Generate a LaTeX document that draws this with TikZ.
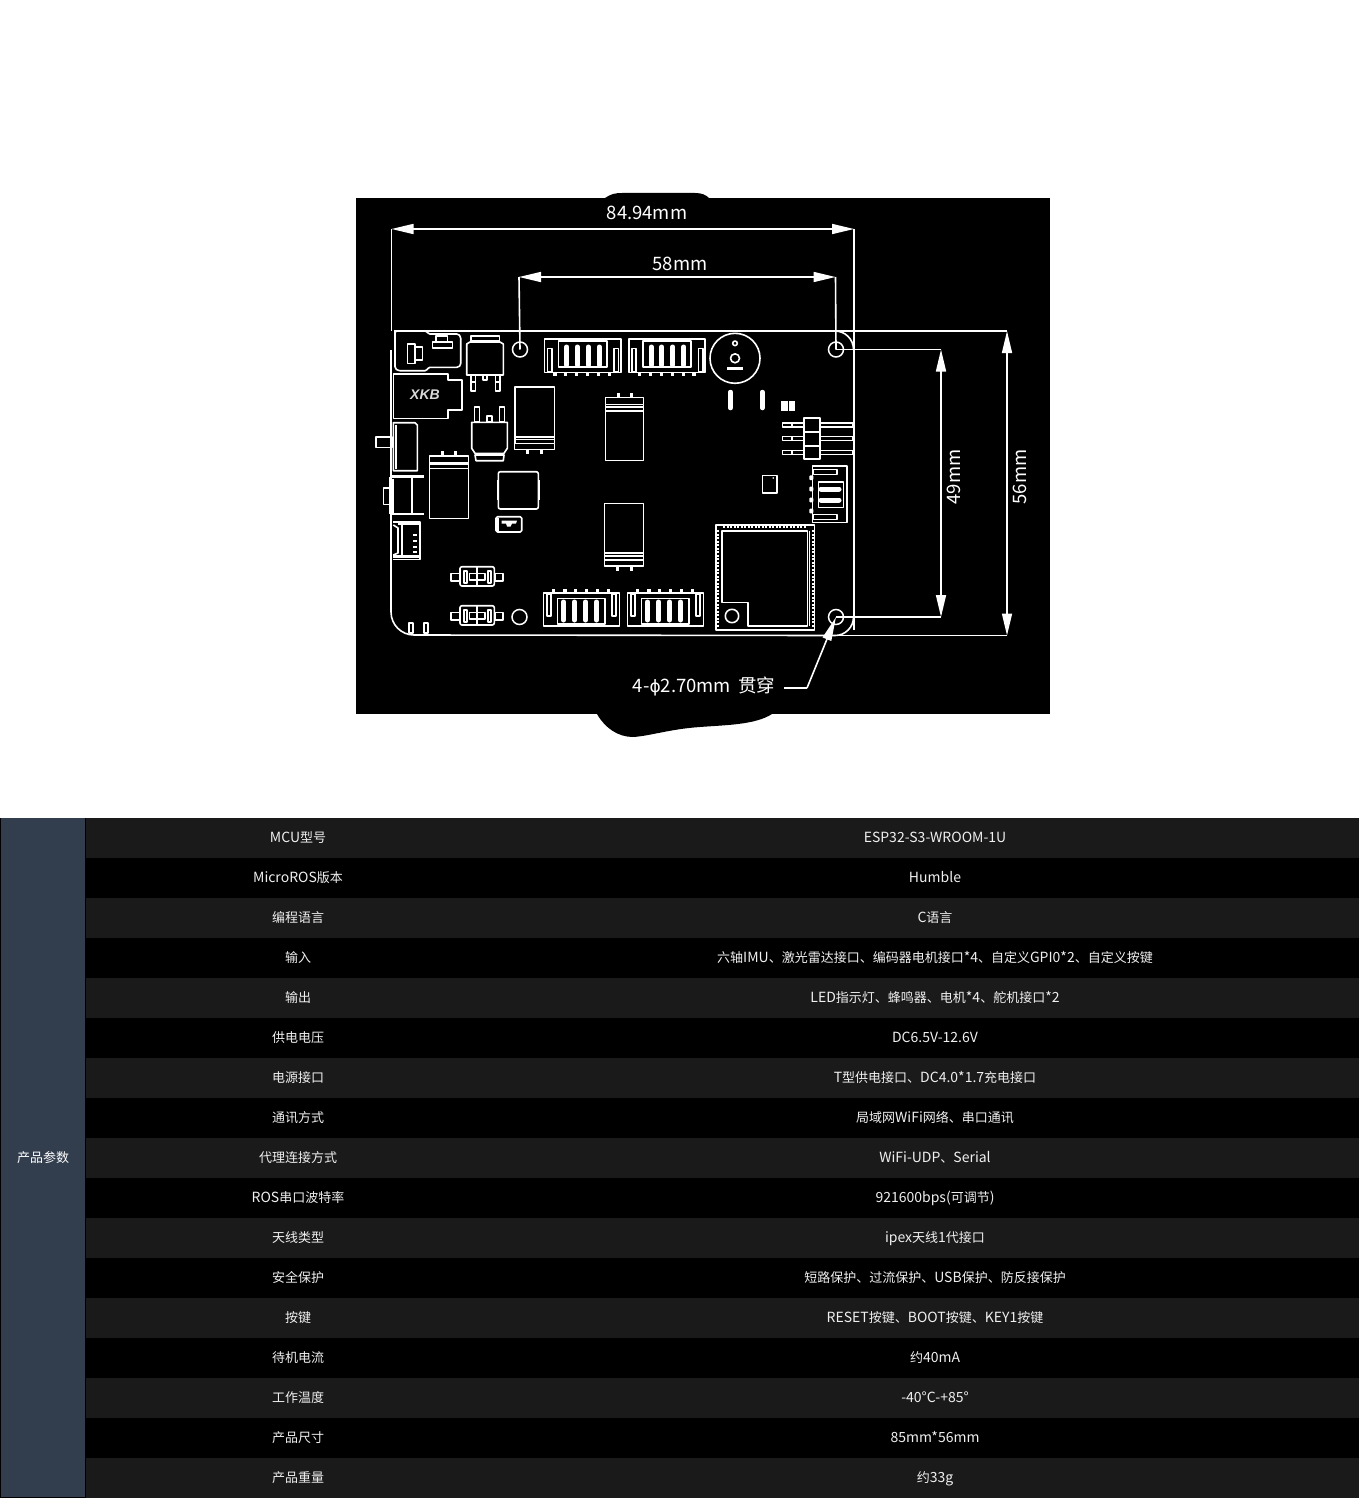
\documentclass[tikz,border=0pt]{standalone}
\usepackage{fontspec}
\setmainfont{Noto Sans CJK SC}
\newfontfamily\xkbfont{Liberation Sans}
\newfontfamily\phifont{DejaVu Sans}
\usetikzlibrary{arrows.meta}
\definecolor{rowdark}{HTML}{1A1A1A}
\definecolor{sidecell}{HTML}{323E4E}
\definecolor{celltext}{HTML}{F0F0F0}
\newcommand{\lat}[1]{{\fontsize{14}{15}\selectfont #1}}
\tikzset{
  part/.style={draw=white,line width=1.6pt,line join=round},
  dimline/.style={draw=white,line width=1.6pt},
  dimarrow/.style={dimline,{Triangle[length=22pt,width=10pt]}-{Triangle[length=22pt,width=10pt]}},
  dimtext/.style={text=white,inner sep=0pt,font=\fontsize{18.5}{20}\selectfont},
  hole/.style={circle,draw=white,line width=1.5pt,minimum size=15pt,inner sep=0pt},
  pill/.style={draw=white,line cap=round,line width=5pt},
  cell/.style={text=celltext,inner sep=0pt,text height=11pt,text depth=3pt,font=\fontsize{13}{15}\selectfont},
  castle/.style={draw=white,line width=3pt,dash pattern=on 2pt off 1.5pt}
}
% one 4-pin socket, top row of the board
\newcommand{\sockettop}[1]{%
  \begin{scope}[xshift=#1pt]
    \draw[part] (544.3,339) rectangle (620.7,372.3);
    \draw[part] (558.3,340.7) rectangle (606.7,366.7);
    \draw[part] (547.3,348.3) rectangle (551.7,371.7);
    \draw[part] (614,348.3) rectangle (618.3,371.7);
    \foreach \fx in {566.7,577.3,588.3,599.3}
      \draw[pill] (\fx,347) -- (\fx,365);
    \foreach \tx in {555,565.7,576.7,587.7,598.7,609.3}
      \fill[white] (\tx-1.7,372) rectangle (\tx+1.7,375.5);
  \end{scope}}
% same socket, bottom row
\newcommand{\socketbot}[1]{%
  \begin{scope}[xshift=#1pt]
    \draw[part] (543.3,592.7) rectangle (619.3,626);
    \draw[part] (557.3,598.3) rectangle (605,624);
    \draw[part] (546.7,594) rectangle (551,616);
    \draw[part] (611.7,594) rectangle (616,616);
    \foreach \fx in {563.5,574.5,585.5,596.5}
      \draw[pill] (\fx,602) -- (\fx,620);
    \foreach \tx in {553.3,565,575.7,586.7,597.7,608.3}
      \fill[white] (\tx-1.7,589.3) rectangle (\tx+1.7,593);
  \end{scope}}
% tact switch
\newcommand{\tactbtn}[1]{%
  \begin{scope}[yshift=-#1pt]
    \draw[part,rounded corners=2pt] (460,566.7) rectangle (494.3,586);
    \draw[part] (451,573.3) rectangle (459.3,580.7);
    \draw[part] (495,573.3) rectangle (502.7,580.7);
    \draw[part,line width=2pt] (463.5,570.5) rectangle (466.5,582.5);
    \draw[part,line width=2pt] (487.5,570.5) rectangle (490.5,582.5);
    \draw[part] (469.3,573.3) rectangle (485,580);
    \draw[part] (477,566.7) -- (477,586);
  \end{scope}}
\begin{document}
\begin{tikzpicture}[x=1pt,y=-1pt]
  \fill[white] (0,0) rectangle (1369,1498);
  \useasboundingbox (0,0) rectangle (1369,1498);

  % black panel and its two torn edges
  \fill[black] (356,198) rectangle (1050,714);
  \fill[black] (605,198) .. controls (611,194) and (615,193) .. (622,193) -- (695,193)
    .. controls (702,193) and (706,195) .. (709,198) -- cycle;
  \fill[black] (597,714) .. controls (605,728) and (618,737) .. (633,737)
    .. controls (650,736) and (670,729) .. (700,727)
    .. controls (725,725) and (755,725) .. (772,714) -- cycle;

  % board corners and dimension ends
  \coordinate (bTL) at (391.5,331);
  \coordinate (bTR) at (854,331);
  \coordinate (bBR) at (854,635.5);
  \coordinate (wL) at (391.5,229);
  \coordinate (wR) at (854,229);
  \coordinate (hT) at (1007,331);
  \coordinate (hB) at (1007,635.5);
  \node[hole] (hTL) at (520,349.5) {};
  \node[hole] (hTR) at (836,349.5) {};
  \node[hole] (hBR) at (836,617) {};
  \node[hole] (hBL) at (519.5,617) {};
  \coordinate (sL) at (519,277);
  \coordinate (sR) at (835.5,277);
  \coordinate (vT) at (941,349.5);
  \coordinate (vB) at (941,617);

  % board outline
  \draw[part] (394.5,331) -- (394.5,350);
  \draw[part] (391,350) -- (391,612) arc[start angle=180,end angle=90,radius=23] -- (835,635.5);
  \draw[part] (835,331) arc[start angle=-90,end angle=0,radius=18.5];
  \draw[part] (853.5,617) arc[start angle=0,end angle=90,radius=18.5];

  % dimensions
  \draw[dimline] (wL) -- (bTL);
  \draw[dimline] (wR) -- (854,630);
  \draw[dimarrow] (wL) -- (wR);
  \draw[dimline] (sL) -- (hTL.center);
  \draw[dimline] (sR) -- (hTR.center);
  \draw[dimarrow] (sL) -- (sR);
  \draw[dimline] (hTR.center) -- (vT);
  \draw[dimline] (hBR.center) -- (vB);
  \draw[dimarrow] (vT) -- (vB);
  \draw[dimline] (394,331) -- (hT);
  \draw[dimline] (835,635.5) -- (hB);
  \draw[dimarrow] (hT) -- (hB);
  \node[dimtext] (w1) at (647,213) {84.94mm};
  \node[dimtext] (w2) at (680,264) {58mm};
  \node[dimtext,rotate=90] (h1) at (954,477) {49mm};
  \node[dimtext,rotate=90] (h2) at (1020,477) {56mm};
  \node[dimtext] (holes) at (704,686) {4-{\phifont\fontsize{17}{20}\selectfont ϕ}2.70mm\hspace{7pt}贯穿};
  \coordinate (lead) at (807,688);
  \draw[dimline] (784,688) -- (lead);
  \draw[dimline,-{Triangle[length=24pt,width=9pt]}] (lead) -- (hBR.center);

  % card slot
  \draw[part,rounded corners=1.5pt] (395,331) -- (426.7,331) -- (428.3,334) -- (458.3,334) -- (460.7,336.7)
    -- (460.7,365) -- (458.3,367.3) -- (428.3,367.3) -- (426.7,370.7) -- (398.3,370.7) -- (395,368.3) -- cycle;
  \draw[part] (407.3,344) -- (415,344) -- (415,346.7) -- (422.3,346.7) -- (422.3,360) -- (415,360) -- (415,363.3) -- (407.3,363.3) -- cycle;
  \draw[part] (415,346.7) -- (415,360);
  \draw[part] (432.3,341.7) rectangle (452.3,347.7);
  \draw[part] (435.7,341.7) -- (435.7,336) -- (447.3,336) -- (447.3,341.7);

  % regulator
  \draw[part] (466.7,344) -- (470,342) -- (500,342) -- (503.3,344) -- (503.3,375) -- (466.7,375) -- cycle;
  \draw[part] (470.7,342) -- (470.7,336) -- (499.3,336) -- (499.3,342);
  \draw[part] (470.7,340.7) -- (499.3,340.7);
  \draw[part] (470.7,375) rectangle (475.3,390.7);
  \draw[part] (495.3,375) rectangle (500,390.7);
  \draw[part] (482.7,375) rectangle (486.7,380);
  \draw[part] (470.7,381.7) -- (475.3,381.7) (495.3,381.7) -- (500,381.7);

  % barrel jack block
  \draw[part] (393.3,374) -- (447.7,374) -- (447.7,380) -- (461.7,380) -- (461.7,410) -- (447.7,410) -- (447.7,418.3) -- (393.3,418.3) -- cycle;
  \node[text=white,opacity=.85,inner sep=0pt,font=\xkbfont\fontsize{14}{14}\selectfont\bfseries\itshape] (xkb) at (425,395) {XKB};

  % slide switch
  \draw[part] (393.3,422.7) -- (415,422.7) -- (417.3,425) -- (417.3,470.7) -- (393.3,470.7) -- cycle;
  \draw[part] (396,425) -- (396,468.5);
  \draw[part] (376,436.7) rectangle (391.7,447.3);

  % usb socket
  \draw[part,line width=2.6pt] (390,476.5) -- (424,476.5);
  \draw[part,line width=2.6pt] (390,514) -- (424,514);
  \draw[part] (390,476.5) -- (390,514);
  \draw[part] (393,479.3) -- (393,512.7);
  \draw[part] (411.7,476.5) -- (411.7,514);
  \draw[part] (390,487.7) -- (383.3,487.7) -- (383.3,504.3) -- (390,504.3);

  % lidar socket
  \draw[part] (393.3,521.7) -- (420,521.7) -- (420,559.3) -- (393.3,559.3);
  \draw[part,line width=2.2pt] (398,523.5) -- (420,523.5);
  \draw[part,line width=2.2pt] (393.3,556.5) -- (420,556.5);
  \draw[part,line width=2pt] (401.5,524) -- (401.5,556);
  \draw[part] (393.3,525) -- (398,528) -- (398,553) -- (393.3,555);
  \foreach \ty in {535,541,547,552}
    \fill[white] (413,\ty-1.2) rectangle (416.5,\ty+1.2);

  % transistor
  \draw[part] (474.3,406.7) rectangle (479.3,421.7);
  \draw[part] (499.3,406.7) rectangle (504.3,421.7);
  \draw[part] (486.7,416) rectangle (491.7,421.7);
  \draw[part] (471.7,422.3) -- (507.3,422.3) -- (507.3,448.3) -- (504,453.3) -- (475,453.3) -- (471.7,448.3) -- cycle;
  \draw[part] (475,455) -- (504,455) -- (503.3,460.7) -- (476,460.7) -- cycle;

  % capacitors
  \draw[part] (515,386.7) rectangle (554.3,436.7);
  \draw[part] (515,436.7) -- (515,443.3) (554.3,436.7) -- (554.3,443.3);
  \draw[part] (515,439.3) -- (554.3,439.3);
  \draw[part] (514.3,443.3) rectangle (554.3,449.3);
  \foreach \px in {527.7,541}
    \fill[white] (\px-1.5,449.3) rectangle (\px+1.5,454.3);

  \foreach \px in {442.7,455.7}
    \fill[white] (\px-1.5,450.7) rectangle (\px+1.5,455.7);
  \draw[part] (429.3,455.7) rectangle (468.3,462.7);
  \draw[part] (429.3,464.5) -- (468.3,464.5);
  \draw[part] (429.3,462.7) -- (429.3,468.3) (468.3,462.7) -- (468.3,468.3);
  \draw[part] (429.3,468.3) rectangle (468.3,518.3);

  \foreach \px in {618,631.5}
    \fill[white] (\px-1.5,393) rectangle (\px+1.5,398);
  \draw[part] (605.5,397.5) rectangle (643.5,404.5);
  \draw[part] (605.5,407) -- (643.5,407) (605.5,411) -- (643.5,411);
  \draw[part] (605.5,404.5) -- (605.5,460.5) -- (643.5,460.5) -- (643.5,404.5);

  \draw[part] (604.5,503.5) rectangle (643.5,553);
  \draw[part] (604.5,556) -- (643.5,556);
  \draw[part] (604.5,553) -- (604.5,566) -- (643.5,566) -- (643.5,553);
  \draw[part] (604.5,560) -- (643.5,560);
  \foreach \px in {617.5,631}
    \fill[white] (\px-1.5,566) rectangle (\px+1.5,571);

  % inductor
  \draw[part,rounded corners=2pt] (498.3,471.7) rectangle (538.3,509);
  \draw[part] (497.5,480) -- (497.5,500) (539.3,480) -- (539.3,500);

  % small led
  \draw[part,rounded corners=1.5pt] (496,516.7) rectangle (521.7,532);
  \draw[part] (498,518) -- (498,531);
  \fill[white] (501.7,520.7) -- (517,520.7) -- (516,523.5) -- (512,523.5) -- (510.5,526.5) -- (507,526.5) -- (506,523.5) -- (501.7,523.5) -- cycle;

  % sockets and buttons
  \sockettop{0}
  \sockettop{84.5}
  \socketbot{0}
  \socketbot{84}
  \tactbtn{0}
  \tactbtn{39}
  \foreach \px in {410.8,426}
    \draw[part,line width=2pt] (\px-2,623) rectangle (\px+2,632.5);

  % buzzer
  \draw[part] (735,358.3) circle[radius=25];
  \draw[part] (735,358.3) circle[radius=4.5];
  \draw[part] (735,343.3) circle[radius=2.3];
  \fill[white] (727.3,366.7) rectangle (743.3,369.5);
  \draw[pill,line width=4.5pt] (730.5,392) -- (730.5,408);
  \draw[pill,line width=4.5pt] (762.3,392) -- (762.3,408);
  \fill[white] (781,401) rectangle (787.7,411);
  \fill[white] (788.7,401) rectangle (795,411);

  % pin header
  \foreach \py in {425,438.3,452.3} {
    \draw[part] (782.3,\py-2) rectangle (852.7,\py+2);
    \draw[part] (791.7,\py-2) -- (791.7,\py+2);
  }
  \fill[black] (804.3,417.7) rectangle (819.7,459.3);
  \draw[part,line width=2.2pt] (804.3,417.7) rectangle (819.7,459.3);
  \draw[part,line width=2.2pt] (804.3,431.7) -- (819.7,431.7) (804.3,445.7) -- (819.7,445.7);

  % sensor
  \draw[part] (762.3,475.3) rectangle (776.7,492.7);
  \fill[white] (773.3,478) circle[radius=.9];

  % right socket
  \draw[part] (812.3,466) rectangle (846.7,522.3);
  \draw[part] (813.3,469.3) rectangle (836.7,474.3);
  \draw[part] (813.3,514.3) rectangle (836.7,519.3);
  \draw[part] (818.3,481.7) rectangle (843.3,507.3);
  \draw[pill] (821,489) -- (839,489);
  \draw[pill] (821,500) -- (839,500);
  \foreach \ny in {477.7,489,500,511}
    \fill[white,rounded corners=1pt] (809.3,\ny-2.4) rectangle (813.3,\ny+2.4);

  % wifi module
  \draw[part] (715.7,524.7) rectangle (814.3,630);
  \draw[castle] (723,526.5) -- (807,526.5);
  \draw[castle] (717,530) -- (717,628);
  \draw[castle] (813,530) -- (813,628);
  \draw[part] (721.7,530.7) -- (807.3,530.7) -- (807.3,625.7) -- (747.7,625.7) -- (747.7,602.3) -- (721.7,602.3) -- cycle;
  \draw[part] (809.5,530.7) -- (809.5,625.7);
  \draw[part] (732,616) circle[radius=6.7];

  % parameter table
  \fill[black] (0,818) rectangle (1359,1498);
  \foreach \n in {0,2,...,16}
    \fill[rowdark] (86,818+40*\n) rectangle (1359,858+40*\n);
  \fill[sidecell] (1,818) rectangle (85,1497);
  \node[cell,text=white] (side) at (43,1158) {产品参数};
  \foreach \rowkey/\rowval [count=\n from 0] in {
    \lat{MCU}型号/\lat{ESP32-S3-WROOM-1U},
    \lat{MicroROS}版本/\lat{Humble},
    编程语言/\lat{C}语言,
    输入/六轴\lat{IMU}、激光雷达接口、编码器电机接口\lat{*4}、自定义\lat{GPI0*2}、自定义按键,
    输出/\lat{LED}指示灯、蜂鸣器、电机\lat{*4}、舵机接口\lat{*2},
    供电电压/\lat{DC6.5V-12.6V},
    电源接口/\lat{T}型供电接口、\lat{DC4.0*1.7}充电接口,
    通讯方式/局域网\lat{WiFi}网络、串口通讯,
    代理连接方式/\lat{WiFi-UDP}、\lat{Serial},
    \lat{ROS}串口波特率/\lat{921600bps(}可调节\lat{)},
    天线类型/\lat{ipex}天线\lat{1}代接口,
    安全保护/短路保护、过流保护、\lat{USB}保护、防反接保护,
    按键/\lat{RESET}按键、\lat{BOOT}按键、\lat{KEY1}按键,
    待机电流/约\lat{40mA},
    工作温度/\lat{-40°C-+85°},
    产品尺寸/\lat{85mm*56mm},
    产品重量/约\lat{33g}} {
    \node[cell] (key\n) at (298,838.5+40*\n) {\rowkey};
    \node[cell] (val\n) at (935,838.5+40*\n) {\rowval};
  }
\end{tikzpicture}
\end{document}
